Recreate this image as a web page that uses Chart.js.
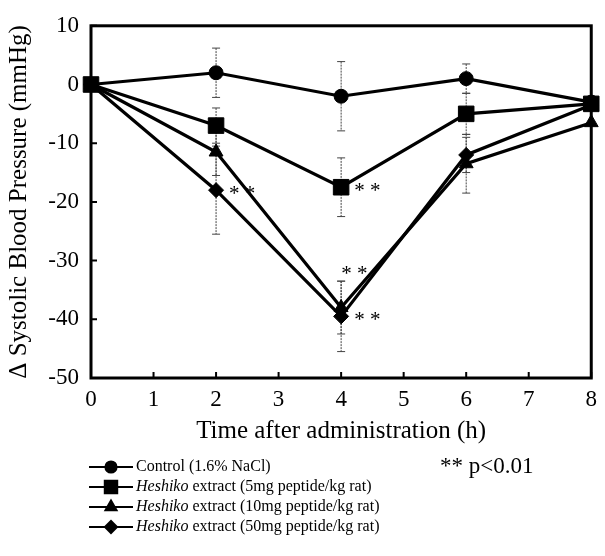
<!DOCTYPE html>
<html>
<head>
<meta charset="utf-8">
<script src="https://cdn.jsdelivr.net/npm/chart.js@4.4.1/dist/chart.umd.min.js"></script>
<style>
  html, body { margin: 0; padding: 0; background: #fff; }
</style>
</head>
<body>
<canvas id="chart" width="605" height="556"></canvas>
<script>
// hours after administration
var hours = [0, 2, 4, 6, 8];

// change in systolic blood pressure (mmHg), mean and error bar half-length
var controlMean = [0, 2, -2, 1, -3];
var controlErr = [0, 4.2, 5.9, 2.5, 0];
var dose5Mean = [0, -7, -17.5, -5, -3.3];
var dose5Err = [0, 3, 5, 3.5, 0];
var dose10Mean = [0, -11.5, -38, -13.5, -6.5];
var dose10Err = [0, 4, 4.5, 5, 0];
var dose50Mean = [0, -18, -39.5, -12, -3.5];
var dose50Err = [0, 7.5, 6, 3, 0];

var seriesPrefix = ['', 'Heshiko', 'Heshiko', 'Heshiko'];
var seriesNames = ['Control (1.6% NaCl)', ' extract (5mg peptide/kg rat)',
    ' extract (10mg peptide/kg rat)', ' extract (50mg peptide/kg rat)'];

// [series, point] pairs marked ** p<0.01
var significant = [[3, 1], [1, 2], [2, 2], [3, 2]];

var serif = '"Liberation Serif", "Times New Roman", serif';

function toPoints(means) {
    return hours.map(function (h, i) { return {x: h, y: means[i]}; });
}

function makeSeries(label, means, errs, style, radius) {
    return {
        label: label,
        data: toPoints(means),
        errors: errs,
        borderColor: '#000',
        backgroundColor: '#000',
        borderWidth: 3.2,
        pointStyle: style,
        pointRadius: radius,
        pointBorderWidth: 1,
        tension: 0,
        clip: false
    };
}

var extrasPlugin = {
    id: 'extras',
    beforeDatasetsDraw: function (chart) {
        var ctx = chart.ctx, xs = chart.scales.x, ys = chart.scales.y;
        ctx.save();
        ctx.strokeStyle = '#444';
        ctx.lineWidth = 1;
        chart.data.datasets.forEach(function (ds) {
            ds.data.forEach(function (p, i) {
                var e = ds.errors[i];
                if (!e) return;
                var px = xs.getPixelForValue(p.x);
                var top = ys.getPixelForValue(p.y + e);
                var bot = ys.getPixelForValue(p.y - e);
                ctx.setLineDash([2, 1]);
                ctx.beginPath();
                ctx.moveTo(px, top);
                ctx.lineTo(px, bot);
                ctx.stroke();
                ctx.setLineDash([]);
                ctx.beginPath();
                ctx.moveTo(px - 4, top); ctx.lineTo(px + 4, top);
                ctx.moveTo(px - 4, bot); ctx.lineTo(px + 4, bot);
                ctx.stroke();
            });
        });
        ctx.restore();
    },
    afterDraw: function (chart) {
        var ctx = chart.ctx, a = chart.chartArea;
        var xs = chart.scales.x, ys = chart.scales.y;
        ctx.save();
        // frame
        ctx.strokeStyle = '#000';
        ctx.lineWidth = 3;
        ctx.strokeRect(a.left, a.top, a.right - a.left, a.bottom - a.top);
        // inward ticks
        ctx.lineWidth = 2;
        ctx.beginPath();
        ys.ticks.forEach(function (t) {
            var py = ys.getPixelForValue(t.value);
            ctx.moveTo(a.left, py); ctx.lineTo(a.left + 6, py);
        });
        xs.ticks.forEach(function (t) {
            var px = xs.getPixelForValue(t.value);
            ctx.moveTo(px, a.bottom); ctx.lineTo(px, a.bottom - 6);
        });
        ctx.stroke();

        // significance marks
        ctx.fillStyle = '#000';
        ctx.font = '21px ' + serif;
        ctx.textBaseline = 'middle';
        ctx.textAlign = 'left';
        significant.forEach(function (s) {
            var p = chart.getDatasetMeta(s[0]).data[s[1]];
            var dx = 13, dy = 4;
            if (s[0] === 2) { dx = 0; dy = -33; }
            ctx.fillText('* *', p.x + dx, p.y + dy);
        });

        // legend
        var rowY = 467, rowGap = 20;
        chart.data.datasets.forEach(function (ds, i) {
            var y = rowY + i * rowGap;
            ctx.strokeStyle = '#000';
            ctx.lineWidth = 2;
            ctx.beginPath();
            ctx.moveTo(89, y); ctx.lineTo(133, y);
            ctx.stroke();
            Chart.helpers.drawPoint(ctx, {
                pointStyle: ds.pointStyle,
                radius: ds.pointRadius * 0.8,
                borderWidth: 1,
                rotation: 0
            }, 111, y);
            ctx.fill();
            var tx = 136;
            if (seriesPrefix[i]) {
                ctx.font = 'italic 16px ' + serif;
                ctx.fillText(seriesPrefix[i], tx, y);
                tx += ctx.measureText(seriesPrefix[i]).width;
            }
            ctx.font = '16px ' + serif;
            ctx.fillText(seriesNames[i], tx, y);
        });
        ctx.font = '23px ' + serif;
        ctx.fillText('** p<0.01', 440, 467);
        ctx.restore();
    }
};

new Chart(document.getElementById('chart'), {
    type: 'line',
    data: {
        datasets: [
            makeSeries('Control (1.6% NaCl)', controlMean, controlErr, 'circle', 7),
            makeSeries('Heshiko 5mg', dose5Mean, dose5Err, 'rect', 11),
            makeSeries('Heshiko 10mg', dose10Mean, dose10Err, 'triangle', 8),
            makeSeries('Heshiko 50mg', dose50Mean, dose50Err, 'rectRot', 7.5)
        ]
    },
    options: {
        responsive: false,
        animation: false,
        devicePixelRatio: 1,
        layout: {padding: {top: 23, right: 7, left: 0, bottom: 110}},
        plugins: {legend: {display: false}, tooltip: {enabled: false}},
        scales: {
            x: {
                type: 'linear',
                min: 0,
                max: 8,
                ticks: {stepSize: 1, color: '#000', padding: 8, font: {family: serif, size: 23}},
                grid: {display: false, drawTicks: false},
                border: {display: false},
                title: {
                    display: true,
                    text: 'Time after administration (h)',
                    color: '#000',
                    font: {family: serif, size: 25},
                    padding: {top: 0, bottom: 0}
                },
                afterFit: function (s) { s.height = 68; }
            },
            y: {
                min: -50,
                max: 10,
                ticks: {stepSize: 10, color: '#000', padding: 12, font: {family: serif, size: 23}},
                grid: {display: false, drawTicks: false},
                border: {display: false},
                title: {
                    display: true,
                    text: '\u0394 Systolic Blood Pressure (mmHg)',
                    color: '#000',
                    font: {family: serif, size: 25},
                    padding: {top: 4, bottom: 0}
                },
                afterFit: function (s) { s.width = 91; }
            }
        }
    },
    plugins: [extrasPlugin]
});
</script>
</body>
</html>
